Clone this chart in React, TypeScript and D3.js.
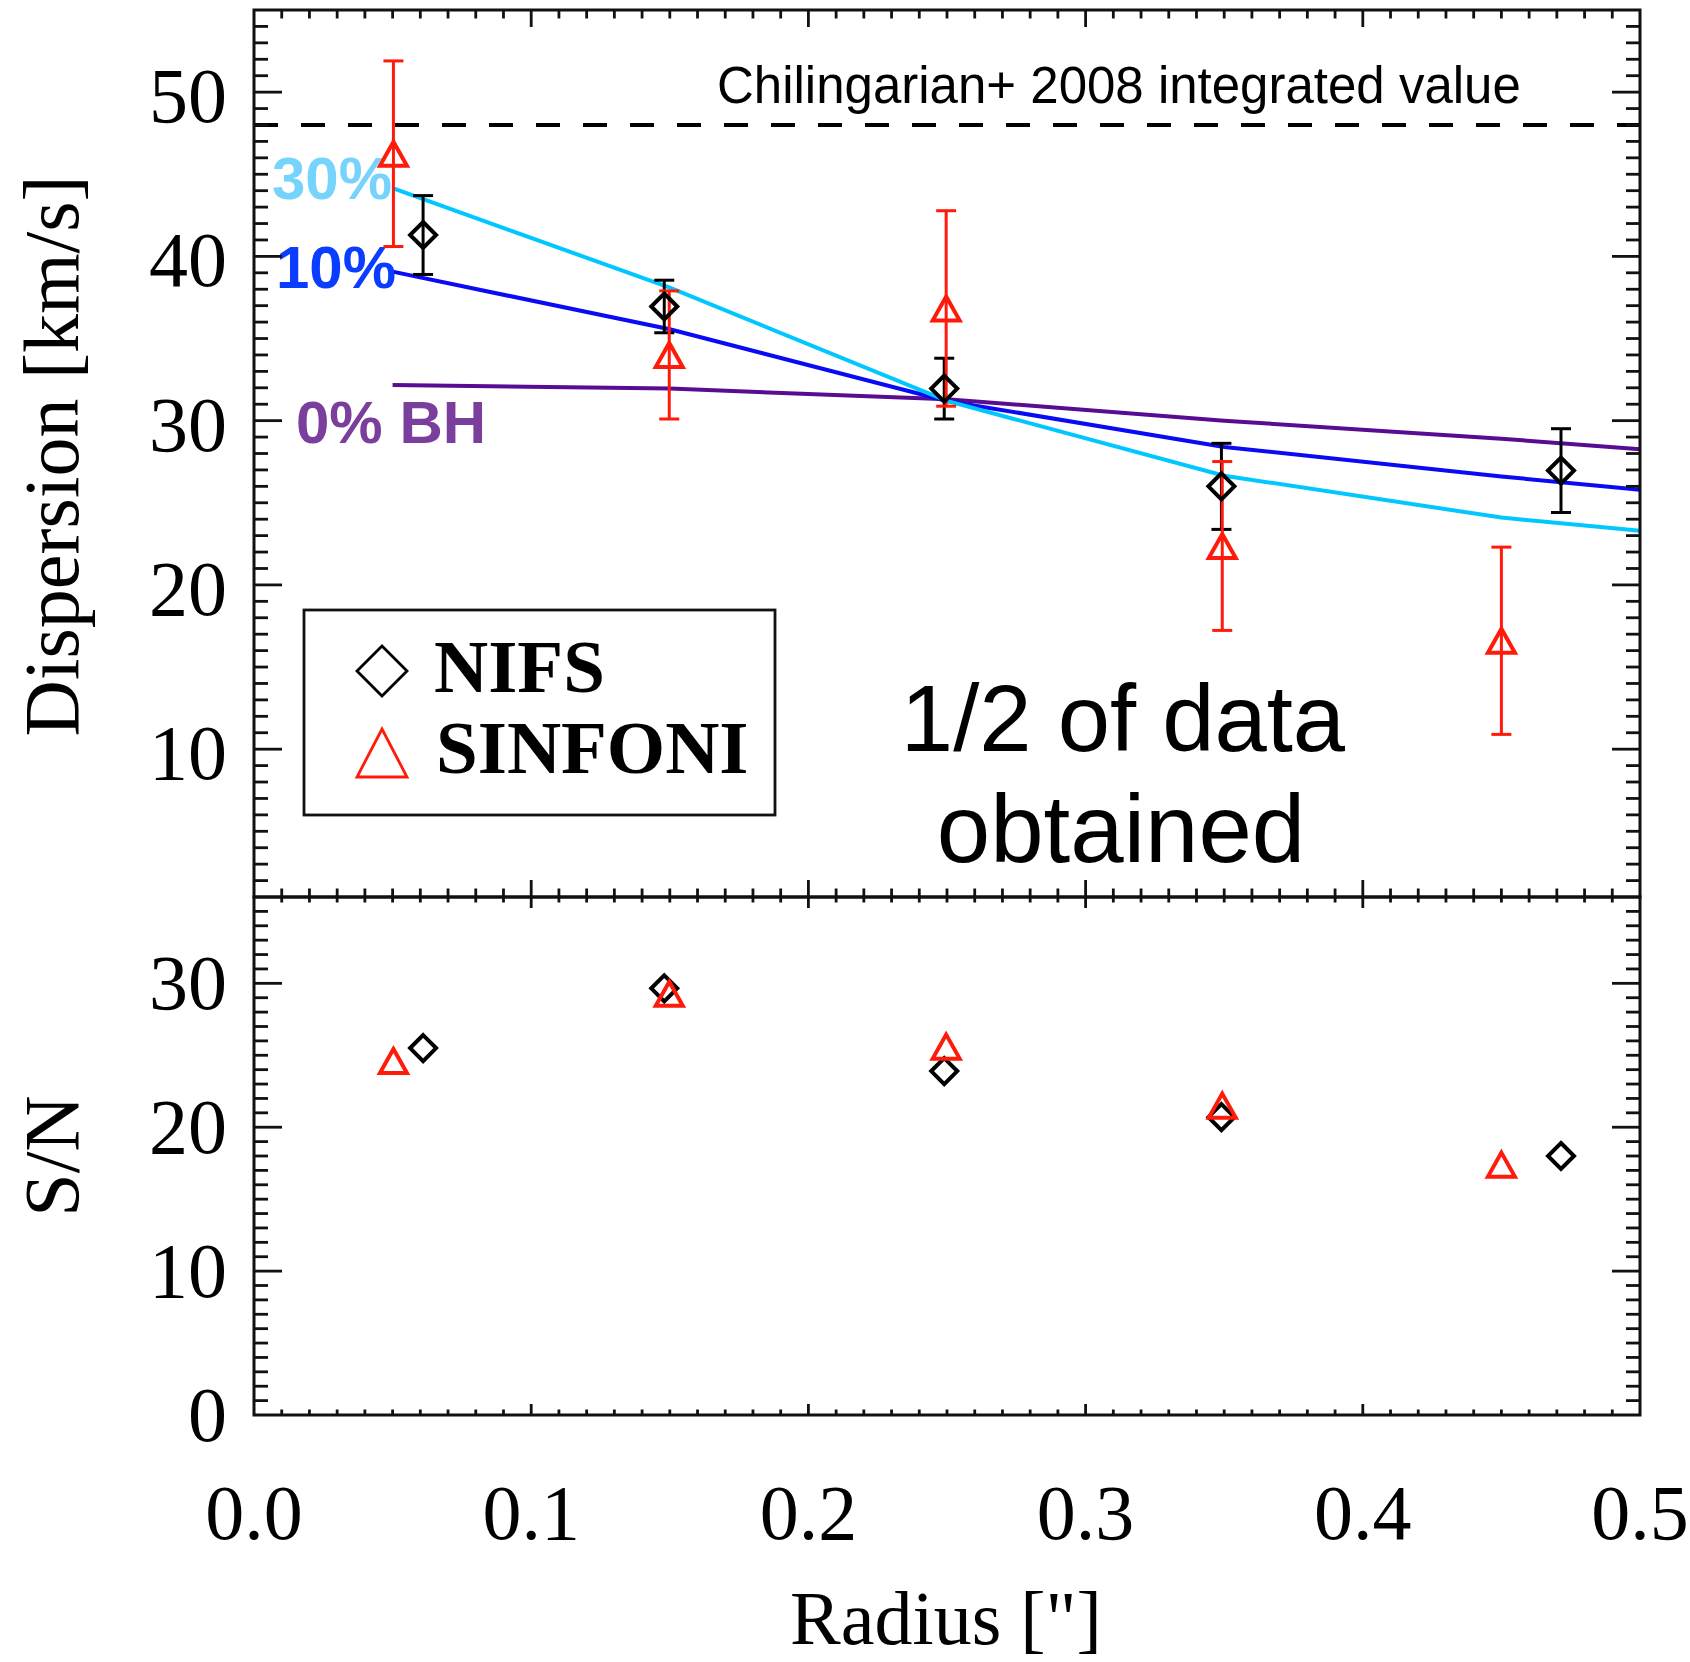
import React from "react";
import * as d3 from "d3";

// ---------- data ----------
const nifsR = [0.061, 0.148, 0.249, 0.349, 0.4715];
const nifsDisp = [41.3, 36.95, 31.95, 26.0, 26.96];
const nifsErr = [2.4, 1.6, 1.85, 2.62, 2.55];
const nifsSN = [25.5, 29.65, 23.9, 20.7, 18.0];

const sinfR = [0.0503, 0.1498, 0.2497, 0.3493, 0.45];
const sinfDisp = [46.25, 34.0, 36.83, 22.37, 16.6];
const sinfErr = [5.65, 3.9, 5.95, 5.14, 5.7];
const sinfSN = [24.6, 29.27, 25.6, 21.5, 17.4];

const modelR = [0.05, 0.15, 0.25, 0.35, 0.45, 0.5];
const bh30 = [44.15, 38.1, 31.2, 26.65, 24.1, 23.3];
const bh10 = [39.07, 35.56, 31.2, 28.4, 26.6, 25.8];
const bh0 = [32.17, 31.95, 31.3, 30.0, 28.9, 28.26];

const chilingarianValue = 48;

const xTickLabels = ["0.0", "0.1", "0.2", "0.3", "0.4", "0.5"];
const xMajor = [0, 0.1, 0.2, 0.3, 0.4, 0.5];
const yTopMajor = [10, 20, 30, 40, 50];
const yBotMajor = [0, 10, 20, 30];

const W = 1690;
const H = 1662;
const L = 254, R = 1640, T = 10, MID = 897, B = 1415;

const x = d3.scaleLinear().domain([0, 0.5]).range([L, R]);
const yTop = d3.scaleLinear().domain([1, 55]).range([MID, T]);
const yBot = d3.scaleLinear().domain([0, 36]).range([B, MID]);

const serif = "'Liberation Serif', 'Times New Roman', serif";
const sans = "'Liberation Sans', Helvetica, Arial, sans-serif";

const RED = "#ff1a0a";
const AX = "#111";

function Diamond({ cx, cy, r = 13, sw = 4 }: any) {
  const p = `M${cx},${cy - r}L${cx + r},${cy}L${cx},${cy + r}L${cx - r},${cy}Z`;
  return <path d={p} fill="none" stroke="#000" strokeWidth={sw} strokeLinejoin="miter" />;
}
function Triangle({ cx, cy, w = 13.5, h = 12, sw = 4, color = RED }: any) {
  const p = `M${cx},${cy - h}L${cx + w},${cy + h}L${cx - w},${cy + h}Z`;
  return <path d={p} fill="none" stroke={color} strokeWidth={sw} strokeLinejoin="miter" />;
}
function ErrBar({ cx, y1, y2, color, sw = 3, cap = 10 }: any) {
  return (
    <g stroke={color} strokeWidth={sw}>
      <line x1={cx} x2={cx} y1={y1} y2={y2} />
      <line x1={cx - cap} x2={cx + cap} y1={y1} y2={y1} />
      <line x1={cx - cap} x2={cx + cap} y1={y2} y2={y2} />
    </g>
  );
}

function Frame({ y0, y1, yScale, yMin, yMax, yMaj, xMajLen, xMinLen }: any) {
  const items: any[] = [];
  const yMajLen = 28, yMinLen = 14;
  d3.range(1, 50).forEach((i) => {
    const v = i / 100;
    const major = i % 10 === 0;
    const len = major ? xMajLen : xMinLen;
    const xx = x(v);
    items.push(<line key={`xb${i}`} x1={xx} x2={xx} y1={y1} y2={y1 - len} />);
    items.push(<line key={`xt${i}`} x1={xx} x2={xx} y1={y0} y2={y0 + len} />);
  });
  d3.range(yMin + 1, yMax).forEach((v: number) => {
    const major = yMaj.includes(v);
    const len = major ? yMajLen : yMinLen;
    const yy = yScale(v);
    items.push(<line key={`yl${v}`} x1={L} x2={L + len} y1={yy} y2={yy} />);
    items.push(<line key={`yr${v}`} x1={R} x2={R - len} y1={yy} y2={yy} />);
  });
  return (
    <g stroke={AX} strokeWidth={2.8}>
      {items}
      <rect x={L} y={y0} width={R - L} height={y1 - y0} fill="none" strokeWidth={3} />
    </g>
  );
}

export default function App() {
  const line = (ys: number[]) =>
    d3.line<number>().x((_, i) => x(modelR[i])).y((d) => yTop(d))(ys) as string;

  return (
    <svg
      width={W}
      height={H}
      viewBox={`0 0 ${W} ${H}`}
      style={{ position: "absolute", left: 0, top: 0, background: "#fff" }}
    >
      <rect x={0} y={0} width={W} height={H} fill="#fff" />

      {/* dashed reference */}
      <line
        x1={L}
        x2={R}
        y1={yTop(chilingarianValue)}
        y2={yTop(chilingarianValue)}
        stroke="#000"
        strokeWidth={4}
        strokeDasharray="24 23"
      />
      <text x={717} y={103} fontFamily={sans} fontSize={51} fill="#000">
        Chilingarian+ 2008 integrated value
      </text>

      {/* model curves */}
      <path d={line(bh0)} fill="none" stroke="#570c92" strokeWidth={4} />
      <path d={line(bh10)} fill="none" stroke="#0a0af5" strokeWidth={4} />
      <path d={line(bh30)} fill="none" stroke="#00c8ff" strokeWidth={4} />

      <text x={272} y={199} fontFamily={sans} fontWeight="bold" fontSize={60} fill="#76d3fb">30%</text>
      <text x={276} y={288} fontFamily={sans} fontWeight="bold" fontSize={60} fill="#0a3dff">10%</text>
      <text x={296} y={443} fontFamily={sans} fontWeight="bold" fontSize={60} fill="#7a3e9d">0% BH</text>

      {/* error bars + markers top panel */}
      {nifsR.map((r, i) => (
        <ErrBar key={`ne${i}`} cx={x(r)} y1={yTop(nifsDisp[i] + nifsErr[i])} y2={yTop(nifsDisp[i] - nifsErr[i])} color="#000" />
      ))}
      {sinfR.map((r, i) => (
        <ErrBar key={`se${i}`} cx={x(r)} y1={yTop(sinfDisp[i] + sinfErr[i])} y2={yTop(sinfDisp[i] - sinfErr[i])} color={RED} />
      ))}
      {nifsR.map((r, i) => (
        <Diamond key={`nd${i}`} cx={x(r)} cy={yTop(nifsDisp[i])} />
      ))}
      {sinfR.map((r, i) => (
        <Triangle key={`st${i}`} cx={x(r)} cy={yTop(sinfDisp[i])} />
      ))}

      {/* bottom panel markers */}
      {nifsR.map((r, i) => (
        <Diamond key={`nsn${i}`} cx={x(r)} cy={yBot(nifsSN[i])} />
      ))}
      {sinfR.map((r, i) => (
        <Triangle key={`ssn${i}`} cx={x(r)} cy={yBot(sinfSN[i])} />
      ))}

      {/* legend */}
      <rect x={304} y={610} width={471} height={205} fill="none" stroke="#111" strokeWidth={2.8} />
      <Diamond cx={382} cy={671} r={25} sw={2.8} />
      <Triangle cx={382} cy={753} w={25} h={24} sw={2.8} />
      <text x={434} y={692} fontFamily={serif} fontWeight="bold" fontSize={75} fill="#000">NIFS</text>
      <text x={436} y={773} fontFamily={serif} fontWeight="bold" fontSize={75} fill="#000">SINFONI</text>

      {/* annotation */}
      <text x={1123} y={751} textAnchor="middle" fontFamily={sans} fontSize={94} fill="#000">1/2 of data</text>
      <text x={1121} y={862} textAnchor="middle" fontFamily={sans} fontSize={96} fill="#000">obtained</text>

      {/* frames */}
      <Frame y0={T} y1={MID} yScale={yTop} yMin={1} yMax={55} yMaj={yTopMajor} xMajLen={17} xMinLen={8.5} />
      <Frame y0={MID} y1={B} yScale={yBot} yMin={0} yMax={36} yMaj={yBotMajor} xMajLen={11} xMinLen={5.5} />

      {/* tick labels */}
      {yTopMajor.map((v) => (
        <text key={`tl${v}`} x={227} y={yTop(v)} dy={30} textAnchor="end" fontFamily={serif} fontSize={78} fill="#000">
          {v}
        </text>
      ))}
      {yBotMajor.map((v) => (
        <text key={`bl${v}`} x={227} y={yBot(v)} dy={26} textAnchor="end" fontFamily={serif} fontSize={78} fill="#000">
          {v}
        </text>
      ))}
      {xMajor.map((v, i) => (
        <text key={`xl${i}`} x={x(v)} y={1539} textAnchor="middle" fontFamily={serif} fontSize={78} fill="#000">
          {xTickLabels[i]}
        </text>
      ))}

      {/* axis titles */}
      <text x={946} y={1644} textAnchor="middle" fontFamily={serif} fontSize={76} fill="#000">
        Radius ["]
      </text>
      <text
        transform={`translate(78, 456) rotate(-90)`}
        textAnchor="middle"
        fontFamily={serif}
        fontSize={78}
        fill="#000"
      >
        Dispersion [km/s]
      </text>
      <text
        transform={`translate(78, ${(MID + B) / 2}) rotate(-90)`}
        textAnchor="middle"
        fontFamily={serif}
        fontSize={78}
        fill="#000"
      >
        S/N
      </text>
    </svg>
  );
}
